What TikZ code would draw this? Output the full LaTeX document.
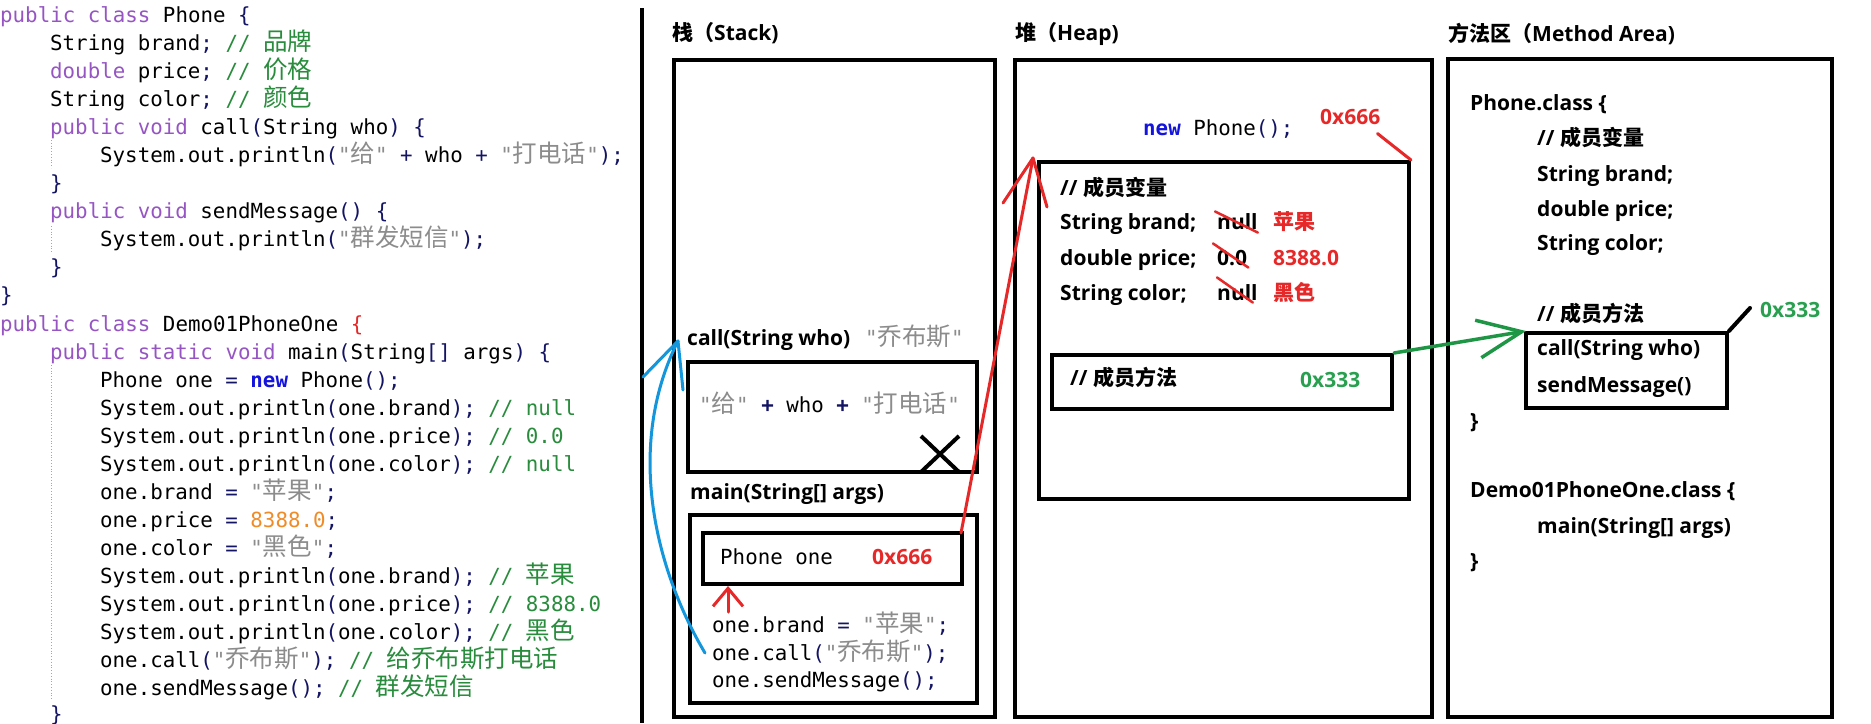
\documentclass[tikz,border=0pt]{standalone}
\usepackage{fontspec}
\usetikzlibrary{arrows.meta}
\setmainfont{Open Sans}
\newfontfamily\dfont{Open Sans}
\newfontfamily\cjk{Noto Sans CJK SC}
\newfontfamily\codefont{DejaVu Sans Mono}
\definecolor{kw}{RGB}{150,85,195}
\definecolor{cm}{RGB}{40,140,60}
\definecolor{sg}{RGB}{140,140,140}
\definecolor{pn}{RGB}{20,20,100}
\definecolor{nw}{RGB}{20,20,220}
\definecolor{nm}{RGB}{240,140,40}
\definecolor{rd}{RGB}{230,40,40}
\definecolor{gr}{RGB}{40,160,80}
\definecolor{garr}{RGB}{30,150,70}
\definecolor{barr}{RGB}{20,150,220}
\newcommand\kwd[1]{\textcolor{kw}{#1}}
\newcommand\cmt[1]{\textcolor{cm}{#1}}
\newcommand\sgr[1]{\textcolor{sg}{#1}}
\newcommand\pnc[1]{\textcolor{pn}{#1}}
\newcommand\nwk[1]{\textcolor{nw}{\bfseries #1}}
\newcommand\nmb[1]{\textcolor{nm}{#1}}
\newcommand\zc[1]{{\cjk\mdseries\fontsize{24.5}{28}\selectfont #1}}
\newcommand\zb[1]{{\cjk #1}}
\tikzset{
  code/.style={font=\codefont\fontsize{20.8}{28}\selectfont, anchor=west, inner sep=0pt, text height=14.5pt, text depth=0pt},
  lbl/.style={font=\dfont\bfseries\fontsize{21}{25}\selectfont, anchor=west, inner sep=0pt, text height=14.7pt, text depth=0pt},
  box/.style={draw, line width=4pt, anchor=north west, inner sep=0pt},
  redline/.style={draw=rd, line width=3pt, line cap=round, line join=round},
  blueline/.style={draw=barr, line width=3pt, line cap=round, line join=round},
  redsmall/.style={draw=rd, line width=3pt, line cap=round, line join=round, -{Straight Barb[length=18pt,width=30pt]}},
  greenarr/.style={draw=garr, line width=3.5pt, line cap=round, line join=round, -{Straight Barb[length=44pt,width=38pt]}},
  strike/.style={draw=rd, line width=2.5pt, line cap=round},
  guide/.style={draw=black!35, line width=0.8pt, dotted},
}
\begin{document}
\begin{tikzpicture}[x=1pt,y=-1pt]
\fill[white] (0,0) rectangle (1871,723);
\useasboundingbox (0,0) rectangle (1871,723);

% ---------- left code ----------
\draw[guide] (51,140) -- (51,168);
\draw[guide] (51,226) -- (51,253);
\draw[guide] (51,365) -- (51,700);
\node[code] (c0) at (0,15) {\kwd{public class} Phone \pnc{\{}};
\node[code] (c1) at (50,43.1) {String brand\pnc{;} \cmt{// \zc{品牌}}};
\node[code] (c2) at (50,71.1) {\kwd{double} price\pnc{;} \cmt{// \zc{价格}}};
\node[code] (c3) at (50,99.2) {String color\pnc{;} \cmt{// \zc{颜色}}};
\node[code] (c4) at (50,127.3) {\kwd{public void} call\pnc{(}String who\pnc{)} \pnc{\{}};
\node[code] (c5) at (100,155.4) {System.out.println\pnc{(}\sgr{"\zc{给}"} \pnc{+} who \pnc{+} \sgr{"\zc{打电话}"}\pnc{);}};
\node[code] (c6) at (50,183.4) {\pnc{\}}};
\node[code] (c7) at (50,211.5) {\kwd{public void} sendMessage\pnc{()} \pnc{\{}};
\node[code] (c8) at (100,239.6) {System.out.println\pnc{(}\sgr{"\zc{群发短信}"}\pnc{);}};
\node[code] (c9) at (50,267.6) {\pnc{\}}};
\node[code] (c10) at (0,295.7) {\pnc{\}}};
\node[code] (c11) at (0,323.8) {\kwd{public class} Demo01PhoneOne \textcolor{rd}{\{}};
\node[code] (c12) at (50,351.8) {\kwd{public static void} main\pnc{(}String\pnc{[]} args\pnc{)} \pnc{\{}};
\node[code] (c13) at (100,379.9) {Phone one \pnc{=} \nwk{new} Phone\pnc{();}};
\node[code] (c14) at (100,408) {System.out.println\pnc{(}one.brand\pnc{);} \cmt{// null}};
\node[code] (c15) at (100,436) {System.out.println\pnc{(}one.price\pnc{);} \cmt{// 0.0}};
\node[code] (c16) at (100,464.1) {System.out.println\pnc{(}one.color\pnc{);} \cmt{// null}};
\node[code] (c17) at (100,492.2) {one.brand \pnc{=} \sgr{"\zc{苹果}"}\pnc{;}};
\node[code] (c18) at (100,520.3) {one.price \pnc{=} \nmb{8388.0}\pnc{;}};
\node[code] (c19) at (100,548.3) {one.color \pnc{=} \sgr{"\zc{黑色}"}\pnc{;}};
\node[code] (c20) at (100,576.4) {System.out.println\pnc{(}one.brand\pnc{);} \cmt{// \zc{苹果}}};
\node[code] (c21) at (100,604.5) {System.out.println\pnc{(}one.price\pnc{);} \cmt{// 8388.0}};
\node[code] (c22) at (100,632.5) {System.out.println\pnc{(}one.color\pnc{);} \cmt{// \zc{黑色}}};
\node[code] (c23) at (100,660.6) {one.call\pnc{(}\sgr{"\zc{乔布斯}"}\pnc{);} \cmt{// \zc{给乔布斯打电话}}};
\node[code] (c24) at (100,688.7) {one.sendMessage\pnc{();} \cmt{// \zc{群发短信}}};
\node[code] (c25) at (50,714) {\pnc{\}}};

% divider
\draw[line width=3.5pt] (642,8) -- (642,723);

% ---------- stack ----------
\node[lbl] (stT) at (672,33) {\zb{栈（}Stack)};
\node[box, minimum width=321, minimum height=657] (stack) at (672,58) {};
\node[lbl] (callLbl) at (687,338) {call(String who)};
\node[code] (callArg) at (865,338) {\sgr{"\zc{乔布斯}"}};
\node[box, minimum width=289, minimum height=110] (callFrame) at (686,360) {};
\node[code] (callBody) at (699,405) {\sgr{"\zc{给}"} \pnc{\textbf{+}} who \pnc{\textbf{+}} \sgr{"\zc{打电话}"}};
\draw[line width=4pt] ([xshift=-58pt,yshift=38pt]callFrame.south east) -- ([xshift=-20pt,yshift=2pt]callFrame.south east);
\draw[line width=4pt] ([xshift=-20pt,yshift=38pt]callFrame.south east) -- ([xshift=-58pt,yshift=2pt]callFrame.south east);
\node[lbl] (mainLbl) at (690,492) {main(String[] args)};
\node[box, minimum width=287, minimum height=188] (mainFrame) at (688,513) {};
\node[box, minimum width=259, minimum height=51] (phoneBox) at (701,531) {};
\node[code] (pOne) at (720,557) {Phone one};
\node[lbl, text=rd] (pAddr) at (872,557) {0x666};
\node[code] (sc1) at (712,625) {one.brand \pnc{=} \sgr{"\zc{苹果}"}\pnc{;}};
\node[code] (sc2) at (712,653) {one.call\pnc{(}\sgr{"\zc{乔布斯}"}\pnc{);}};
\node[code] (sc3) at (712,680) {one.sendMessage\pnc{();}};
\coordinate (rtail) at (728,612);
\draw[redsmall] (rtail) -- (rtail |- phoneBox.south);

% ---------- heap ----------
\node[lbl] (hpT) at (1015,33) {\zb{堆（}Heap)};
\node[box, minimum width=417, minimum height=657] (heap) at (1013,58) {};
\node[code] (newP) at (1143,128) {\nwk{new} Phone\pnc{();}};
\node[lbl, text=rd] (h666) at (1320,117) {0x666};
\node[box, minimum width=370, minimum height=337] (heapObj) at (1037,160) {};
\node[lbl] (hv) at (1060,188) {// \zb{成员变量}};
\node[lbl] (hb) at (1060,222) {String brand;};
\node[lbl] (hbn) at (1217,222) {null};
\node[lbl, text=rd] (hbv) at (1273,222) {\zb{苹果}};
\node[lbl] (hp) at (1060,258) {double price;};
\node[lbl] (hpn) at (1217,258) {0.0};
\node[lbl, text=rd] (hpv) at (1273,258) {8388.0};
\node[lbl] (hc) at (1060,293) {String color;};
\node[lbl] (hcn) at (1217,293) {null};
\node[lbl, text=rd] (hcv) at (1273,293) {\zb{黑色}};
\draw[strike] ([xshift=-2pt,yshift=3pt]hbn.north west) -- ([xshift=0pt,yshift=-3pt]hbn.south east);
\draw[strike] ([xshift=-4pt,yshift=7pt]hpn.north west) -- ([xshift=1pt,yshift=-2pt]hpn.south east);
\draw[strike] ([xshift=0pt,yshift=8pt]hcn.north west) -- ([xshift=-5pt,yshift=-2pt]hcn.south east);
\node[box, minimum width=340, minimum height=54] (heapM) at (1050,353) {};
\node[lbl] (hm) at (1070,378) {// \zb{成员方法}};
\node[lbl, text=gr] (h333) at (1300,380) {0x333};
\draw[draw=rd, line width=3pt, line cap=round] ([xshift=-3pt,yshift=-9pt]h666.south east) -- (heapObj.north east);

% ---------- method area ----------
\node[lbl] (maT) at (1448,34) {\zb{方法区（}Method Area)};
\node[box, minimum width=384, minimum height=658] (marea) at (1446,57) {};
\node[lbl] (pc) at (1470,103) {Phone.class \{};
\node[lbl] (mv) at (1537,138) {// \zb{成员变量}};
\node[lbl] (mb) at (1537,174) {String brand;};
\node[lbl] (mp) at (1537,209) {double price;};
\node[lbl] (mc) at (1537,243) {String color;};
\node[lbl] (mm) at (1537,314) {// \zb{成员方法}};
\node[box, minimum width=201, minimum height=75] (mBox) at (1524,331) {};
\node[lbl] (mcall) at (1537,348) {call(String who)};
\node[lbl] (msend) at (1537,385) {sendMessage()};
\node[lbl] (mcl1) at (1470,421) {\}};
\node[lbl] (dc) at (1470,490) {Demo01PhoneOne.class \{};
\node[lbl] (dmain) at (1537,526) {main(String[] args)};
\node[lbl] (mcl2) at (1470,561) {\}};
\node[lbl, text=gr] (m333) at (1760,310) {0x333};
\draw[line width=4pt, line cap=round] (mBox.north east) -- ([xshift=-10pt,yshift=2pt]m333.west);

% ---------- connectors ----------
\coordinate (rtip) at ([xshift=-4pt,yshift=2pt]heapObj.north west);
\draw[redline] ([xshift=-3pt,yshift=-2pt]phoneBox.north east) -- (rtip);
\draw[redline] (rtip) -- +(-30,45);
\draw[redline] (rtip) -- +(14,49);
\coordinate (btip) at (678,341);
\draw[blueline] ([xshift=-7pt]sc2.west) .. controls (650,560) and (628,440) .. (btip);
\draw[blueline] (btip) -- +(-35,36);
\draw[blueline] (btip) -- +(5,49);
\draw[greenarr] (heapM.north east) -- ([xshift=2pt]mBox.north west);
\end{tikzpicture}
\end{document}
